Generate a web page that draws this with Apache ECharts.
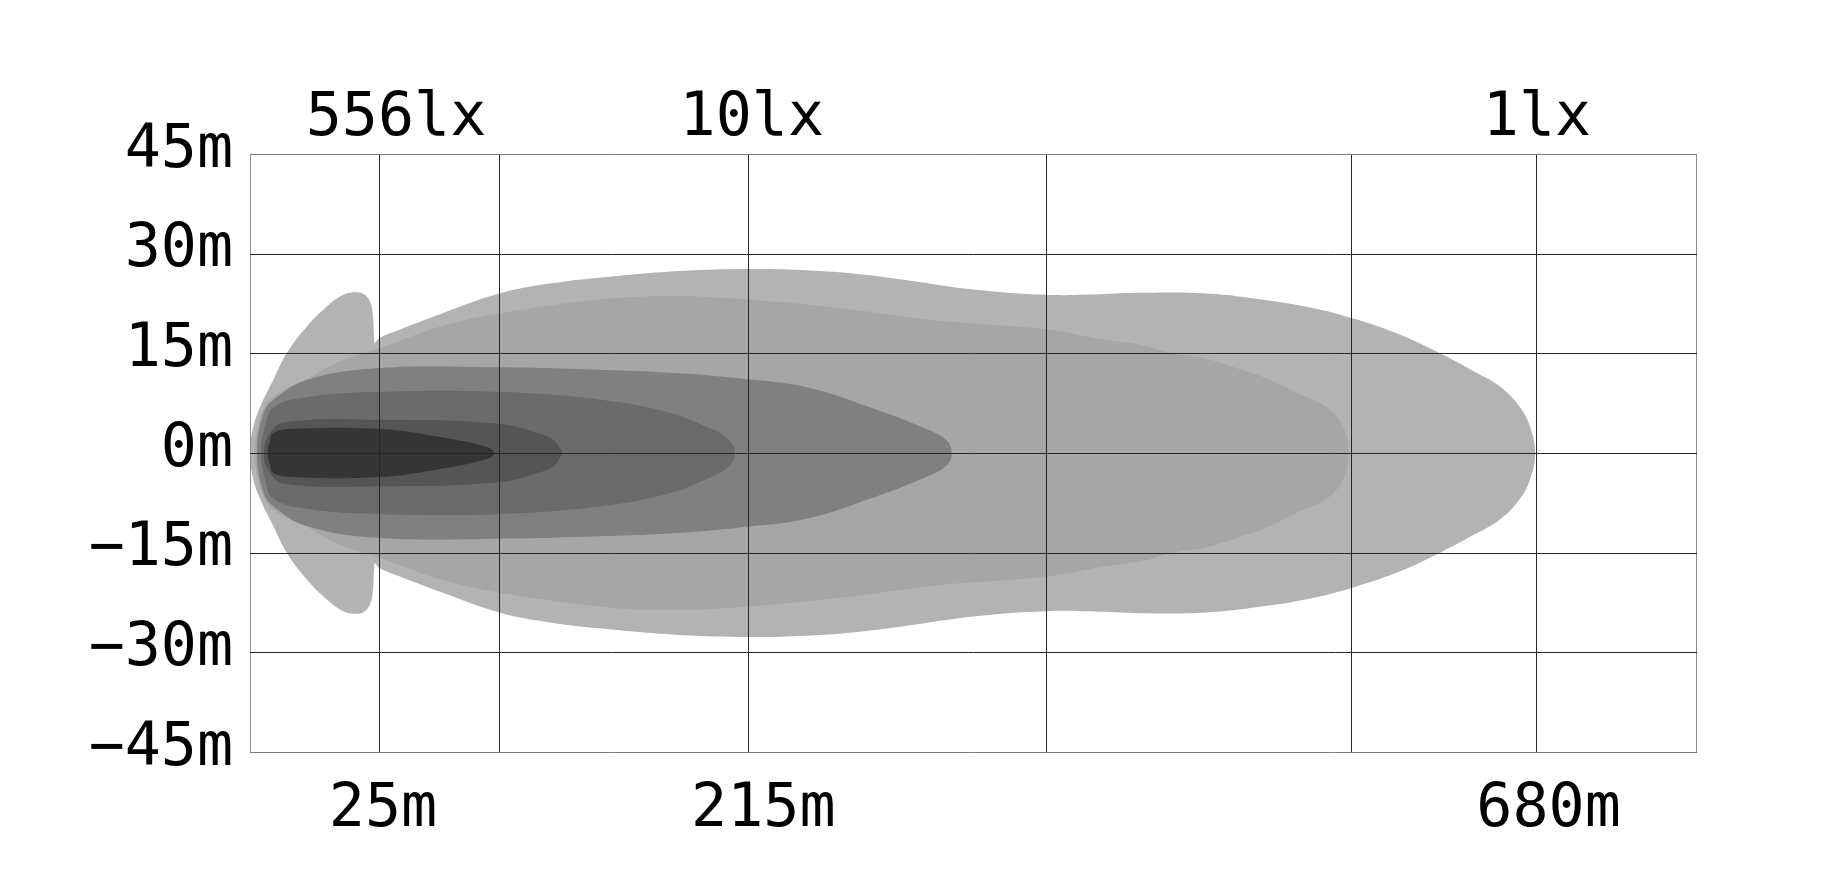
<!DOCTYPE html>
<html><head><meta charset="utf-8">
<script src="https://cdn.jsdelivr.net/npm/echarts@6/dist/echarts.min.js"></script>
<style>html,body{margin:0;padding:0;background:#fff}#c{width:1822px;height:884px}</style>
</head><body><div id="c"></div>
<script>
// x is in plot units (0..100 across the chart width), y in metres
const xGridLines = [0, 8.94, 17.24, 34.45, 55.04, 76.16, 88.96, 100];
const yGridLines = [-45, -30, -15, 0, 15, 30, 45];
const bottomLabelPos = [9.2, 35.5, 89.8];
const bottomLabelText = ['25m', '215m', '680m'];
const topLabelPos = [10.1, 34.7, 89.0];
const topLabelText = ['556lx', '10lx', '1lx'];

// half-width profiles [x, half-width in m] for each isolux zone (symmetric about 0m)
const zone1 = [[0,0],[0.18,3.5],[0.69,6.9],[1.61,11.0],[2.54,15.0],[3.92,19.0],[5.30,22.0],[6.45,23.8],[7.38,24.2],[7.95,23.8],[8.33,22.6],[8.51,20.5],[8.58,17.5],[8.64,16.6],[8.94,17.3],[10.37,18.6],[13.14,20.9],[17.24,24.0],[20.75,25.5],[24.67,26.5],[29.74,27.4],[34.46,27.7],[38.50,27.5],[42.19,26.9],[45.41,26.0],[50.02,24.6],[55.05,23.8],[58.78,23.9],[61.55,24.1],[66.16,24.0],[70.31,23.0],[73.31,21.9],[76.19,20.3],[79.53,17.8],[82.30,15.0],[84.72,12.2],[86.45,10.0],[87.83,6.9],[88.52,4.0],[88.87,0]];
const zone2 = [[0.28,0],[0.55,4.0],[0.83,6.0],[1.59,8.5],[3.92,11.1],[6.22,13.8],[8.99,15.8],[13.14,19.0],[17.24,21.0],[24.67,23.2],[29.74,23.6],[34.46,23.1],[40.80,21.8],[47.72,19.9],[55.05,18.6],[59.25,17.0],[61.55,16.3],[63.85,15.0],[66.16,14.2],[68.46,12.6],[70.31,11.2],[72.61,8.8],[74.46,6.9],[75.61,3.9],[75.96,0]];
const zone3 = [[0.48,0],[0.92,5.9],[1.61,8.0],[3.92,11.0],[8.99,12.8],[17.24,12.9],[24.67,12.5],[29.74,12.0],[33.89,11.2],[38.50,9.9],[43.11,6.7],[46.56,3.8],[48.18,1.9],[48.53,0]];
const zone4 = [[0.76,0],[1.04,4.0],[1.61,6.9],[3.92,8.4],[8.99,9.2],[17.24,9.2],[24.67,7.9],[29.27,5.9],[31.58,3.9],[32.73,2.7],[33.40,1.2],[33.54,0]];
const zone5 = [[0.97,0],[1.24,2.5],[2.30,4.6],[8.99,5.0],[17.24,4.4],[20.06,2.9],[20.98,2.0],[21.44,0.7],[21.58,0]];
const zone6 = [[1.21,0],[1.38,1.8],[1.61,3.0],[2.77,3.6],[8.99,3.6],[13.14,2.4],[16.37,0.9],[16.87,0]];

const zones = [zone1, zone2, zone3, zone4, zone5, zone6];
const zoneColors = ['#b3b3b3', '#a6a6a6', '#808080', '#6b6b6b', '#555555', '#353535'];

const FONT = "'DejaVu Sans Mono', monospace";

function outline(profile) {
  const upper = profile.map(p => [p[0], p[1]]);
  const lower = profile.slice().reverse().filter(p => p[1] !== 0).map(p => [p[0], -p[1]]);
  return upper.concat(lower);
}

const chart = echarts.init(document.getElementById('c'), null, {renderer: 'canvas'});

const option = {
  backgroundColor: '#ffffff',
  animation: false,
  grid: {left: 250, right: 126, top: 154, bottom: 132, containLabel: false},
  xAxis: [{
    type: 'value', min: 0, max: 100, position: 'bottom',
    axisLine: {show: false}, axisTick: {show: false}, splitLine: {show: false},
    axisLabel: {
      customValues: bottomLabelPos, fontFamily: FONT, fontSize: 60, color: '#000', margin: 28,
      formatter: v => { const i = bottomLabelPos.indexOf(v); return i >= 0 ? bottomLabelText[i] : ''; }
    }
  }, {
    type: 'value', min: 0, max: 100, position: 'top',
    axisLine: {show: false}, axisTick: {show: false}, splitLine: {show: false},
    axisLabel: {
      customValues: topLabelPos, fontFamily: FONT, fontSize: 60, color: '#000', margin: 5,
      formatter: v => { const i = topLabelPos.indexOf(v); return i >= 0 ? topLabelText[i] : ''; }
    }
  }],
  yAxis: {
    type: 'value', min: -45, max: 45, interval: 15,
    axisLine: {show: false}, axisTick: {show: false}, splitLine: {show: false},
    axisLabel: {
      fontFamily: FONT, fontSize: 60, color: '#000', margin: 17,
      verticalAlign: 'bottom', lineHeight: 6,
      formatter: v => (v < 0 ? '\u2212' + (-v) : String(v)) + 'm'
    }
  },
  series: [{
    type: 'custom',
    name: 'zones',
    xAxisIndex: 0,
    silent: true,
    z: 2,
    data: zones.map((z, i) => [i]),
    renderItem: function (params, api) {
      const idx = params.dataIndex;
      const pts = outline(zones[idx]).map(p => api.coord(p));
      return {
        type: 'polygon',
        shape: {points: pts, smooth: 0.4},
        style: {fill: zoneColors[idx], stroke: null}
      };
    }
  }, {
    type: 'custom',
    name: 'gridV',
    xAxisIndex: 0,
    silent: true,
    z: 10,
    data: xGridLines.map(v => [v]),
    renderItem: function (params, api) {
      const x = xGridLines[params.dataIndex];
      const a = api.coord([x, -45]);
      const b = api.coord([x, 45]);
      const border = (x === 0 || x === 100);
      return {
        type: 'line',
        shape: {x1: Math.round(a[0]) + 0.5, y1: a[1] + 0.5, x2: Math.round(b[0]) + 0.5, y2: b[1]},
        style: {stroke: border ? '#8c8c8c' : '#262626', lineWidth: 1}
      };
    }
  }, {
    type: 'custom',
    name: 'gridH',
    xAxisIndex: 0,
    silent: true,
    z: 10,
    data: yGridLines.map(v => [0, v]),
    renderItem: function (params, api) {
      const y = yGridLines[params.dataIndex];
      const a = api.coord([0, y]);
      const b = api.coord([100, y]);
      const border = (y === 45 || y === -45);
      return {
        type: 'line',
        shape: {x1: a[0], y1: Math.round(a[1]) + 0.5, x2: b[0] + 1, y2: Math.round(b[1]) + 0.5},
        style: {stroke: border ? '#7a7a7a' : '#262626', lineWidth: 1}
      };
    }
  }]
};
chart.setOption(option);
</script>
</body></html>
